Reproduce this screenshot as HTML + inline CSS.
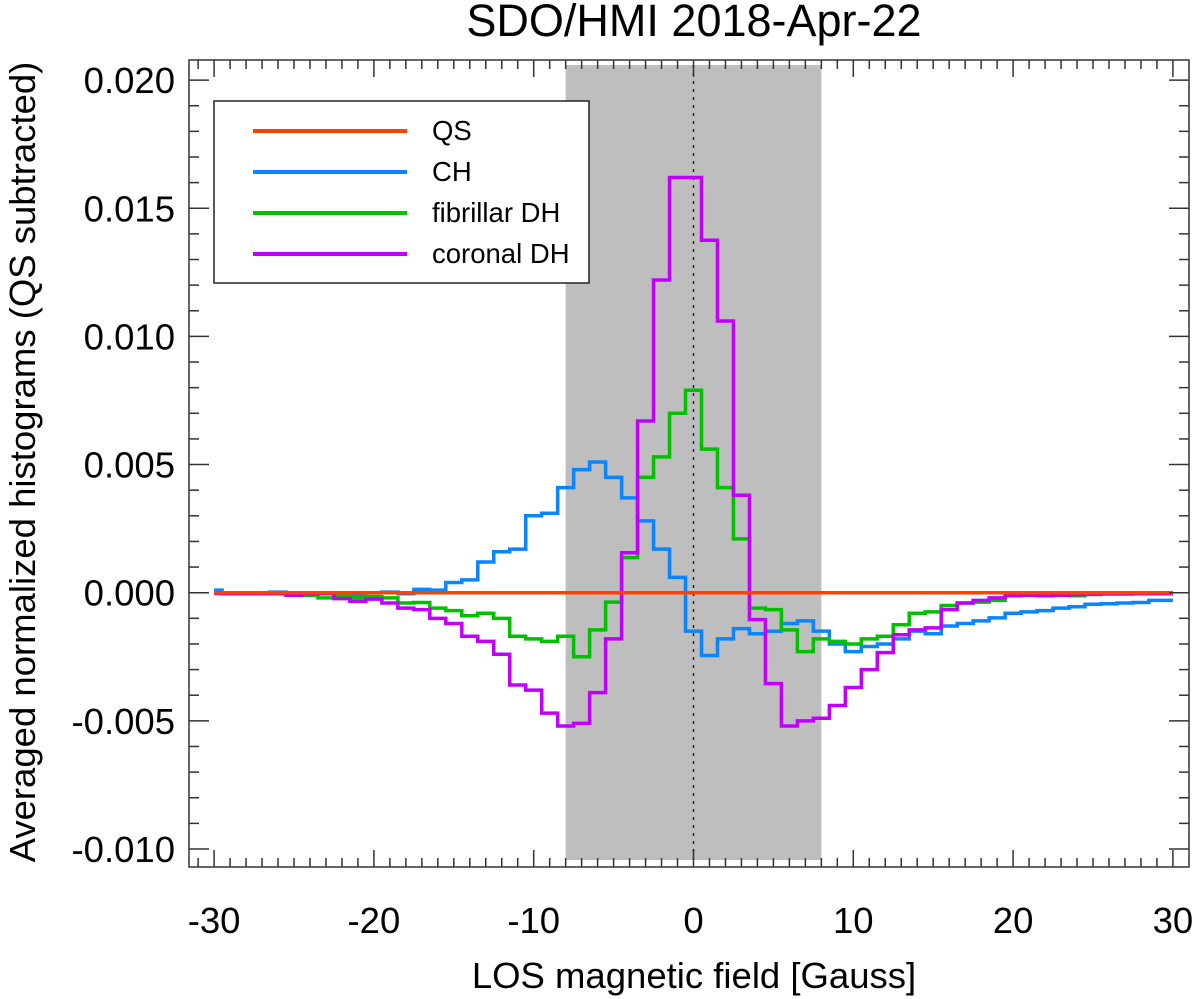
<!DOCTYPE html>
<html><head><meta charset="utf-8"><style>
html,body{margin:0;padding:0;background:#fff;}
svg{display:block;font-family:"Liberation Sans",sans-serif;}
</style></head><body>
<svg id="chart" width="1200" height="999" viewBox="0 0 1200 999">
<rect x="0" y="0" width="1200" height="999" fill="#fff"/>
<text x="694" y="36" font-size="45" text-anchor="middle">SDO/HMI 2018-Apr-22</text>
<g id="band"></g>
<g id="series"></g>
<g id="axes"></g>
<text x="694" y="988" font-size="36.5" text-anchor="middle">LOS magnetic field [Gauss]</text>
<text transform="translate(35,462) rotate(-90)" font-size="36.5" text-anchor="middle">Averaged normalized histograms (QS subtracted)</text>
<g>
<rect x="214" y="101" width="375" height="182" fill="#fff" stroke="#222" stroke-width="1.5"/>
<line x1="253" y1="131" x2="407" y2="131" stroke="#ff4000" stroke-width="4"/>
<text x="432" y="140" font-size="27.5">QS</text>
<line x1="253" y1="172" x2="407" y2="172" stroke="#0a84ff" stroke-width="4"/>
<text x="432" y="181" font-size="27.5">CH</text>
<line x1="253" y1="213" x2="407" y2="213" stroke="#00c000" stroke-width="4"/>
<text x="432" y="222" font-size="27.5">fibrillar DH</text>
<line x1="253" y1="254" x2="407" y2="254" stroke="#c000ff" stroke-width="4"/>
<text x="432" y="263" font-size="27.5">coronal DH</text>
</g>
</svg>
<script>
const bins = [];
for (let b = -30; b <= 30; b++) bins.push(b);
const qsValues = new Array(61).fill(0);
const chValues = [0.0001,0,0,0,0.00002,0,0,-0.00004,-0.00004,-0.0001,0,0.00002,-0.00004,0.00013,0.0001,0.0004,0.0005,0.0012,0.0016,0.0017,0.0030,0.0031,0.0041,0.0048,0.0051,0.0045,0.0037,0.0028,0.0017,0.0006,
 -0.0015,-0.00245,-0.0018,-0.0014,-0.0016,-0.0015,-0.0012,-0.0011,-0.0015,-0.002,-0.0023,-0.0021,-0.002,-0.0018,-0.0015,-0.0016,-0.0013,-0.0012,-0.0011,-0.00098,-0.0008,-0.00075,-0.0007,-0.0006,-0.00055,-0.00045,-0.00043,-0.0004,-0.00038,-0.0003,-0.0003];
const fibValues = [0,0,-0.00004,-0.00004,0,-0.00004,-0.0001,-0.0002,-0.00013,-0.0002,-0.00015,-0.0002,-0.0004,-0.00038,-0.0006,-0.0007,-0.0009,-0.0008,-0.001,-0.0017,-0.0018,-0.0019,-0.0017,-0.0025,-0.00145,-0.00037,0.00137,0.0045,0.0053,0.0070,
 0.0079,0.0056,0.0041,0.0021,-0.0006,-0.00066,-0.00145,-0.0023,-0.0018,-0.0019,-0.002,-0.0018,-0.0017,-0.00125,-0.0008,-0.00075,-0.0005,-0.0004,-0.00037,-0.0003,-0.00005,0,0,0,-0.00012,-0.00007,0,0,0,0,0];
const corValues = [-0.00003,-0.00004,-0.00004,-0.00004,-0.00004,-0.0001,-0.00004,-0.00004,-0.00023,-0.00034,-0.00025,-0.0004,-0.0006,-0.00066,-0.001,-0.0012,-0.0017,-0.0019,-0.0024,-0.0036,-0.0038,-0.0047,-0.0052,-0.0051,-0.0039,-0.0018,0.00156,0.0067,0.0122,0.0162,
 0.0162,0.01375,0.0106,0.0038,-0.00105,-0.00355,-0.0052,-0.0050,-0.0049,-0.0044,-0.0037,-0.0030,-0.00234,-0.00164,-0.00145,-0.00137,-0.00066,-0.0004,-0.0003,-0.0002,-0.00012,-0.0001,-0.00012,-0.0001,-0.00007,-0.00006,-0.00005,-0.00005,-0.00004,-0.00004,-0.00004];
const xTicks = [-30,-20,-10,0,10,20,30];
const xTickLabels = ["-30","-20","-10","0","10","20","30"];
const yTicks = [-0.010,-0.005,0,0.005,0.010,0.015,0.020];
const yTickLabels = ["-0.010","-0.005","0.000","0.005","0.010","0.015","0.020"];
const bandRange = [-8, 8];

const NS = "http://www.w3.org/2000/svg";
const L = 189, R = 1189, T = 60, B = 867;
function xs(v){ return 693.5 + v*15.98; }
function ys(v){ return 592.7 - v*25630; }
function mk(tag, attrs, parent){ const e = document.createElementNS(NS, tag); for (const k in attrs) e.setAttribute(k, attrs[k]); parent.appendChild(e); return e; }

const band = document.getElementById('band');
const br = mk('rect', {x: xs(bandRange[0]), y: 65, width: xs(bandRange[1]) - xs(bandRange[0]), height: 795, fill: '#bebebe'}, band);


const dl = mk('line', {x1: xs(0), y1: 65, x2: xs(0), y2: 860, stroke: '#111', 'stroke-width': 1.5, 'stroke-dasharray': '3,5'}, band);



const sg = document.getElementById('series');
function stepPath(vals){
  let d = '';
  for (let i = 0; i < bins.length; i++){
    const x0 = xs(bins[i]-0.5), x1 = xs(bins[i]+0.5), y = ys(vals[i]);
    if (i === 0) d += 'M' + xs(bins[i]) + ' ' + y; else d += ' L' + x0 + ' ' + y;
    d += ' L' + (i === bins.length-1 ? xs(bins[i]) : x1) + ' ' + y;
  }
  return d;
}
const seriesDefs = [[chValues,'#0a84ff','series-ch'],[fibValues,'#00c000','series-fibrillar-dh'],[corValues,'#c000ff','series-coronal-dh'],[qsValues,'#ff4000','series-qs']];
seriesDefs.forEach(s => {
  const p = mk('path', {d: stepPath(s[0]), fill: 'none', stroke: s[1], 'stroke-width': 3.5}, sg);
  
  
});

const ax = document.getElementById('axes');
const frame = mk('rect', {x: L, y: T, width: R-L, height: B-T, fill: 'none', stroke: '#333', 'stroke-width': 1.5}, ax);


for (let v = -31; v <= 30; v++){
  const major = v % 10 === 0;
  const len = major ? 17 : 9, x = xs(v);
  if (x < L) continue;
  const t1 = mk('line', {x1: x, y1: B, x2: x, y2: B-len, stroke: '#333', 'stroke-width': 1.5}, ax);
  
  
  const t2 = mk('line', {x1: x, y1: T, x2: x, y2: T+len, stroke: '#333', 'stroke-width': 1.5}, ax);
  
  
}
for (let k = -10; k <= 20; k++){
  const v = k/1000, y = ys(v), major = k % 5 === 0;
  const len = major ? 20 : 10;
  const t1 = mk('line', {x1: L, y1: y, x2: L+len, y2: y, stroke: '#333', 'stroke-width': 1.5}, ax);
  
  
  const t2 = mk('line', {x1: R, y1: y, x2: R-len, y2: y, stroke: '#333', 'stroke-width': 1.5}, ax);
  
  
}
xTicks.forEach((v,i) => {
  const t = mk('text', {x: xs(v), y: 933, 'font-size': 36.5, 'text-anchor': 'middle'}, ax);
  t.textContent = xTickLabels[i];
  
  
});
yTicks.forEach((v,i) => {
  const t = mk('text', {x: 175, y: ys(v)+13, 'font-size': 36.5, 'text-anchor': 'end'}, ax);
  t.textContent = yTickLabels[i];
  
  
});
</script>
</body></html>
